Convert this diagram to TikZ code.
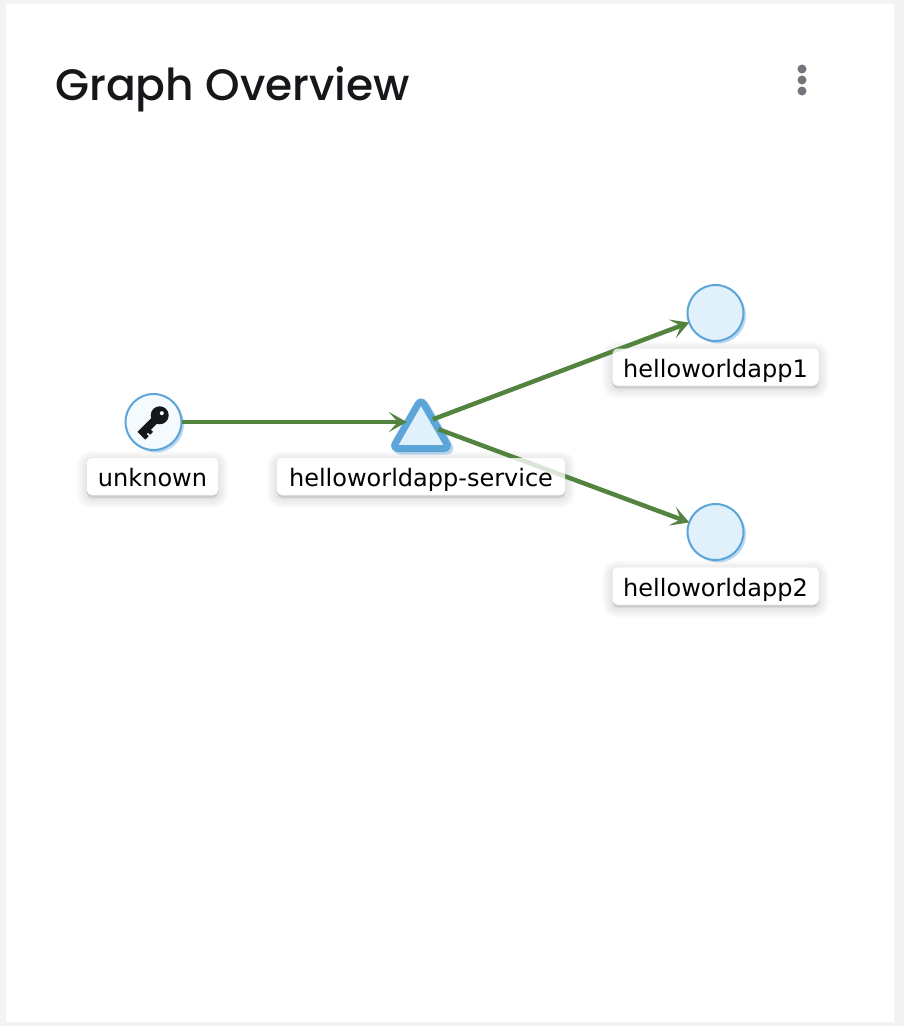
\documentclass[tikz,border=0pt]{standalone}
\usepackage{fontspec}
\setmainfont{DejaVu Sans}
\newfontfamily\titlefont{Poppins Medium}
\usepackage{xcolor}
\usetikzlibrary{shapes.geometric,shadows,arrows.meta}
\definecolor{pagegray}{HTML}{F3F3F3}
\definecolor{edgegreen}{HTML}{53843F}
\definecolor{nodeblue}{HTML}{5BA5D9}
\definecolor{nodefill}{HTML}{E1F1FC}
\definecolor{nodeshade}{HTML}{BBDAF2}
\definecolor{inkblack}{HTML}{15171A}
\definecolor{dotgray}{HTML}{72767B}
\tikzset{
	appnode/.style={circle, draw=nodeblue, fill=nodefill, line width=2pt, minimum size=56pt, inner sep=0pt, outer sep=0pt,
		general shadow={fill=nodeshade, shadow xshift=2.5pt, shadow yshift=-2.5pt}},
	svcnode/.style={regular polygon, regular polygon sides=3, draw=nodeblue, fill=nodefill, line width=7pt, rounded corners=6pt, minimum size=66pt, inner sep=0pt, outer sep=0pt,
		general shadow={fill=nodeshade, draw=nodeshade, shadow xshift=2.5pt, shadow yshift=-2.5pt}},
	shadowbox/.style={fill=white, rounded corners=5pt, inner sep=0pt, outer sep=0pt, minimum height=37pt,
		general shadow={fill=black, draw=black, line width=20pt, opacity=0.018, shadow yshift=-3pt},
		general shadow={fill=black, draw=black, line width=16pt, opacity=0.02, shadow yshift=-3pt},
		general shadow={fill=black, draw=black, line width=12pt, opacity=0.02, shadow yshift=-3pt},
		general shadow={fill=black, draw=black, line width=8pt, opacity=0.02, shadow yshift=-3pt},
		general shadow={fill=black, draw=black, line width=4pt, opacity=0.02, shadow yshift=-3pt}},
	labelbox/.style={fill=white, fill opacity=0.8, text opacity=1, rounded corners=5pt, inner sep=0pt, outer sep=0pt, minimum height=37pt, text height=22pt, text depth=2pt, font=\fontsize{24}{28}\selectfont, text=black},
	edgeline/.style={draw=edgegreen, line width=4.5pt, -{Stealth[length=18pt,width=20pt,inset=9pt]}},
}
\begin{document}
\begin{tikzpicture}[x=1pt,y=-1pt]
	\useasboundingbox (0,0) rectangle (904,1026);
	\fill[pagegray] (0,0) rectangle (904,1026);
	\fill[white] (6,4) rectangle (894,1022);
	\node[anchor=base west, inner sep=0pt, text=inkblack, font=\titlefont\fontsize{44}{50}\selectfont] (title) at (55,100) {Graph Overview};
	\foreach \dy in {69,80,91}
		\fill[dotgray] (802,\dy) circle (4.5);
	% nodes
	\node[appnode, fill=nodefill!35] (unk) at (153.5,422) {};
	\node[svcnode] (svc) at (421,432) {};
	\node[appnode] (app1) at (715.5,313) {};
	\node[appnode] (app2) at (715.5,532) {};
	% key
	\begin{scope}[shift={(153,422)}, rotate=-45]
		\fill[inkblack] (0,-9.5) circle (9);
		\fill[inkblack] (-4,-4) rectangle (4,18);
		\fill[inkblack] (3,7) rectangle (7,11);
		\fill[inkblack] (3,13) rectangle (7,18);
		\fill[white] (0,-12.5) circle (2);
	\end{scope}
	% label shadows
	\node[shadowbox, minimum width=131pt] (shdunk) at (152.5,476.5) {};
	\node[shadowbox, minimum width=288pt] (shdsvc) at (421,476.5) {};
	\node[shadowbox, minimum width=206pt] (shdapp1) at (715.5,367) {};
	\node[shadowbox, minimum width=206pt] (shdapp2) at (715.5,586) {};
	% edges
	\draw[edgeline] (unk.east) -- (unk.east -| svc.149);
	\draw[edgeline] (svc.47) -- (app1.200);
	\draw[edgeline] (svc.9) -- (app2.160);
	% labels
	\node[labelbox, minimum width=131pt] (lblunk) at (shdunk) {unknown};
	\node[labelbox, minimum width=288pt] (lblsvc) at (shdsvc) {helloworldapp-service};
	\node[labelbox, minimum width=206pt] (lblapp1) at (shdapp1) {helloworldapp1};
	\node[labelbox, minimum width=206pt] (lblapp2) at (shdapp2) {helloworldapp2};
\end{tikzpicture}
\end{document}
